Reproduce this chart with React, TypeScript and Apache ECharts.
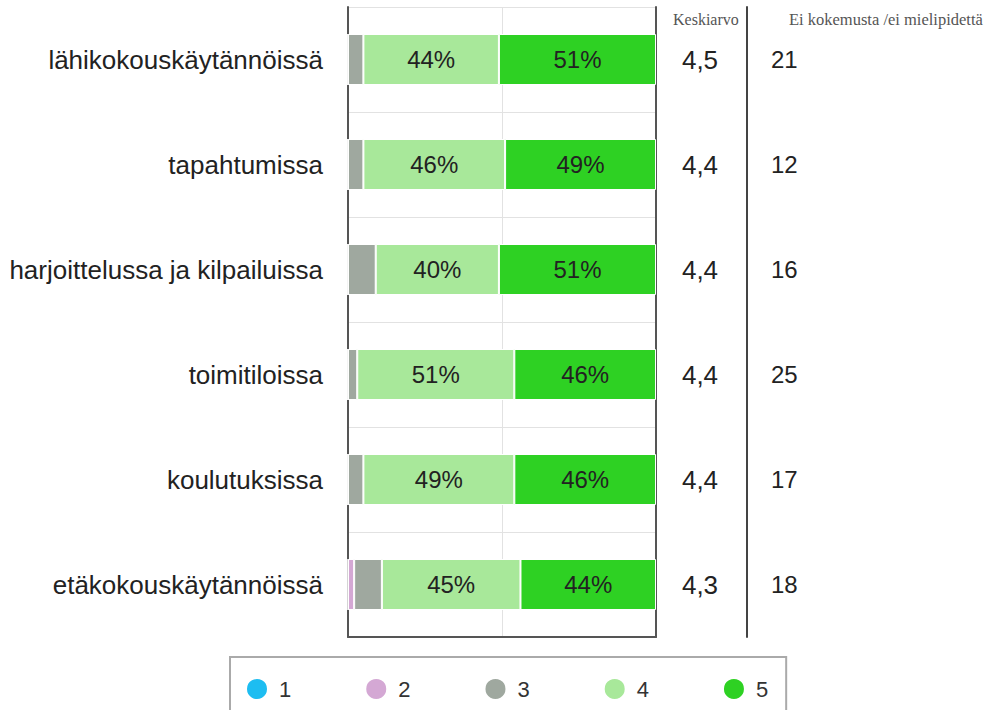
import React, { useEffect, useRef } from "react";
import * as echarts from "echarts";

const categories = [
  "lähikokouskäytännöissä",
  "tapahtumissa",
  "harjoittelussa ja kilpailuissa",
  "toimitiloissa",
  "koulutuksissa",
  "etäkokouskäytännöissä",
];
const seriesNames = ["1", "2", "3", "4", "5"];
const s1 = [0, 0, 0, 0, 0, 0];
const s2 = [0, 0, 0, 0, 0, 2];
const s3 = [5, 5, 9, 3, 5, 9];
const s4 = [44, 46, 40, 51, 49, 45];
const s5 = [51, 49, 51, 46, 46, 44];
const averages = [4.5, 4.4, 4.4, 4.4, 4.4, 4.3];
const noOpinion = [21, 12, 16, 25, 17, 18];
const colors = ["#1DBDF1", "#D4A8D4", "#9FA89F", "#A8E89A", "#2ED123"];
const headerAvg = "Keskiarvo";
const headerNo = "Ei kokemusta /ei mielipidettä";

const FONT = "'Liberation Sans', Arial, sans-serif";
const SERIF = "'Liberation Serif', 'Times New Roman', serif";

export default function App() {
  const ref = useRef<HTMLDivElement>(null);
  useEffect(() => {
    if (!ref.current) return;
    const chart = echarts.init(ref.current, undefined, { renderer: "svg" });
    const allData = [s1, s2, s3, s4, s5];
    const series = allData.map((d, i) => ({
      name: seriesNames[i],
      type: "bar",
      stack: "total",
      yAxisIndex: 0,
      barWidth: 51,
      data: d,
      itemStyle: { color: colors[i], borderColor: "#fff", borderWidth: 1 },
      label: {
        show: i >= 3,
        position: "inside",
        formatter: (p: any) => (p.value >= 10 ? p.value + "%" : ""),
        color: "#222",
        fontSize: 24,
        fontFamily: FONT,
      },
    }));
    chart.setOption({
      animation: false,
      backgroundColor: "#fff",
      grid: { left: 348, right: 332, top: 7, bottom: 73, containLabel: false },
      xAxis: {
        type: "value",
        min: 0,
        max: 100,
        interval: 50,
        axisLabel: { show: false },
        axisTick: { show: false },
        axisLine: { show: true, lineStyle: { color: "#555", width: 2 } },
        splitLine: { show: true, lineStyle: { color: "#e2e2e2", width: 1 } },
      },
      yAxis: [
        {
          type: "category",
          inverse: true,
          data: categories,
          position: "left",
          axisTick: { show: false },
          axisLine: { show: true, lineStyle: { color: "#555", width: 2 } },
          splitLine: { show: true, lineStyle: { color: "#e2e2e2", width: 1 } },
          axisLabel: { fontSize: 26, color: "#222", margin: 25, fontFamily: FONT },
        },
        {
          type: "category",
          inverse: true,
          data: averages.map((v) => v.toFixed(1).replace(".", ",")),
          position: "right",
          offset: 0,
          axisTick: { show: false },
          axisLine: { show: true, lineStyle: { color: "#555", width: 2 } },
          splitLine: { show: false },
          axisLabel: { fontSize: 26, color: "#222", margin: 44, align: "center", fontFamily: FONT },
        },
        {
          type: "category",
          inverse: true,
          data: noOpinion.map(String),
          position: "right",
          offset: 91,
          axisTick: { show: false },
          axisLine: { show: true, lineStyle: { color: "#444", width: 2 } },
          splitLine: { show: false },
          axisLabel: { fontSize: 24, color: "#222", margin: 24, align: "left", fontFamily: FONT },
        },
      ],
      legend: {
        left: 230,
        top: 657,
        data: seriesNames,
        icon: "circle",
        itemWidth: 22,
        itemHeight: 22,
        itemGap: 73,
        padding: [20, 18, 40, 15],
        borderColor: "#aaa",
        borderWidth: 2,
        backgroundColor: "#fff",
        textStyle: { fontSize: 22, color: "#333", fontFamily: FONT, padding: [0, 0, 0, 6] },
      },
      graphic: [
        {
          type: "text",
          left: 673,
          top: 11,
          style: { text: headerAvg, fontSize: 16, fill: "#555", fontFamily: SERIF },
        },
        {
          type: "text",
          left: 789,
          top: 11,
          style: { text: headerNo, fontSize: 16.5, fill: "#555", fontFamily: SERIF },
        },
      ],
      series,
    });
    return () => chart.dispose();
  }, []);
  return (
    <div
      ref={ref}
      style={{ position: "absolute", left: 0, top: 0, width: 988, height: 710 }}
    />
  );
}
